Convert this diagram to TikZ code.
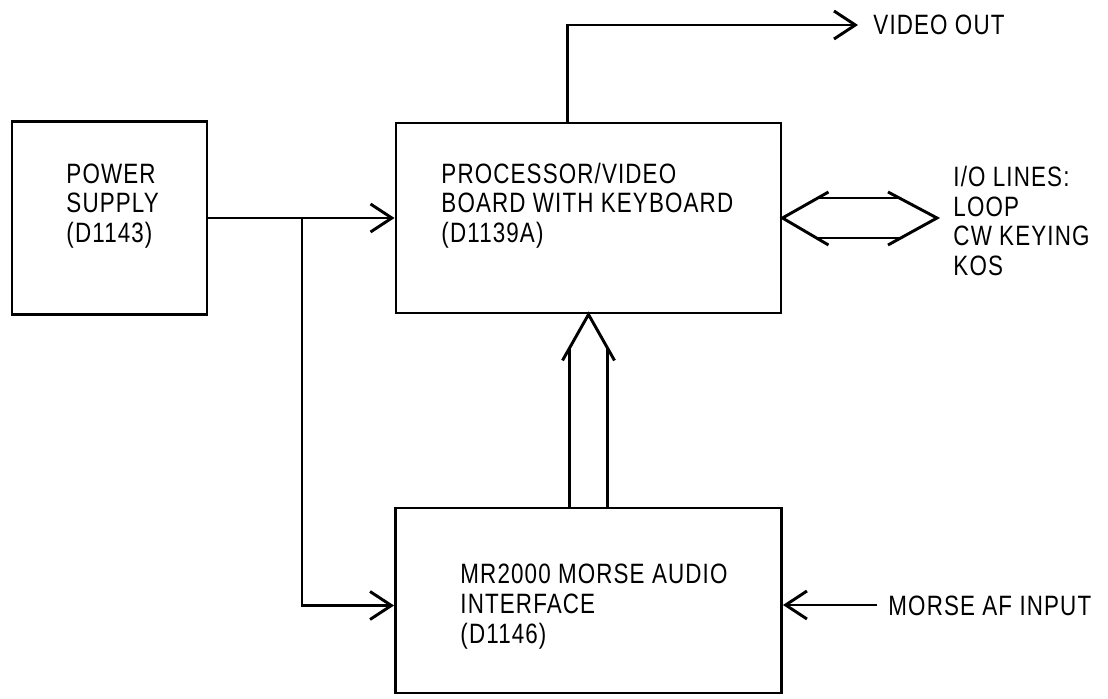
\documentclass[tikz,border=0pt]{standalone}
\usepackage{fontspec}
\usepackage{graphicx}
\setmainfont{Liberation Sans}[LetterSpace=5]
\usetikzlibrary{arrows.meta,calc}
\newcommand{\cond}[1]{\scalebox{0.8}[1]{#1}}
\begin{document}
\begin{tikzpicture}[x=0.75pt,y=-0.75pt,
  line width=2.2pt,
  box/.style={draw,line width=2.2pt,inner sep=0pt,minimum width=#1},
  txt/.style={inner sep=0pt,anchor=west,font=\fontsize{21}{22.5}\selectfont},
  arr/.style={-{Straight Barb[length=16pt,width=21pt]}}]
\useasboundingbox (0,0) rectangle (1108,699);
% boxes
\node[box=146.25pt,minimum height=144.75pt] (ps) at (109.5,218) {};
\node[box=288.75pt,minimum height=142.5pt] (proc) at (588.5,218) {};
\node[box=289.5pt,minimum height=138.75pt] (mr) at (588.5,600.5) {};
% texts
\node[txt] (pst) at (65,207) {\cond{\begin{tabular}{@{}l@{}}POWER\\SUPPLY\\(D1143)\end{tabular}}};
\node[txt] (proct) at (440,207) {\cond{\begin{tabular}{@{}l@{}}PROCESSOR/VIDEO\\BOARD WITH KEYBOARD\\(D1139A)\end{tabular}}};
\node[txt] (mrt) at (459,607) {\cond{\begin{tabular}{@{}l@{}}MR2000 MORSE AUDIO\\INTERFACE\\(D1146)\end{tabular}}};
\node[txt] (vot) at (872,25) {\cond{VIDEO OUT}};
\node[txt] (iot) at (952,225) {\cond{\begin{tabular}{@{}l@{}}I/O LINES:\\LOOP\\CW KEYING\\KOS\end{tabular}}};
\node[txt] (aft) at (887,606) {\cond{MORSE AF INPUT}};
% connectors
\coordinate (br) at (302,218);
\draw[arr] (ps.east) -- (proc.west);
\draw[arr] (br) |- ([yshift=-3.75pt]mr.west);
\coordinate (vo) at (858,25);
\draw[arr] ([xshift=-16pt]proc.north) |- (vo);
\coordinate (af) at (877,605);
\draw[arr] (af) -- (mr.east |- af);
% I/O double arrow
\coordinate (ioR) at (937,218);
\draw (proc.east) ++(46,-26) coordinate (lt) -- (proc.east) -- ++(46,27) coordinate (lb);
\draw (ioR) ++(-49,-26) -- (ioR) -- ++(-49,27);
\draw (817,198) -- (898,198);
\draw (816,238) -- (901,238);
% bus arrow up
\draw ($(proc.south)+(-26,46)$) -- (proc.south) -- ($(proc.south)+(26,46)$);
\draw ($(mr.north)+(-19,0)$) -- ($(proc.south)+(-19,35)$);
\draw ($(mr.north)+(19,0)$) -- ($(proc.south)+(19,35)$);
\end{tikzpicture}
\end{document}
